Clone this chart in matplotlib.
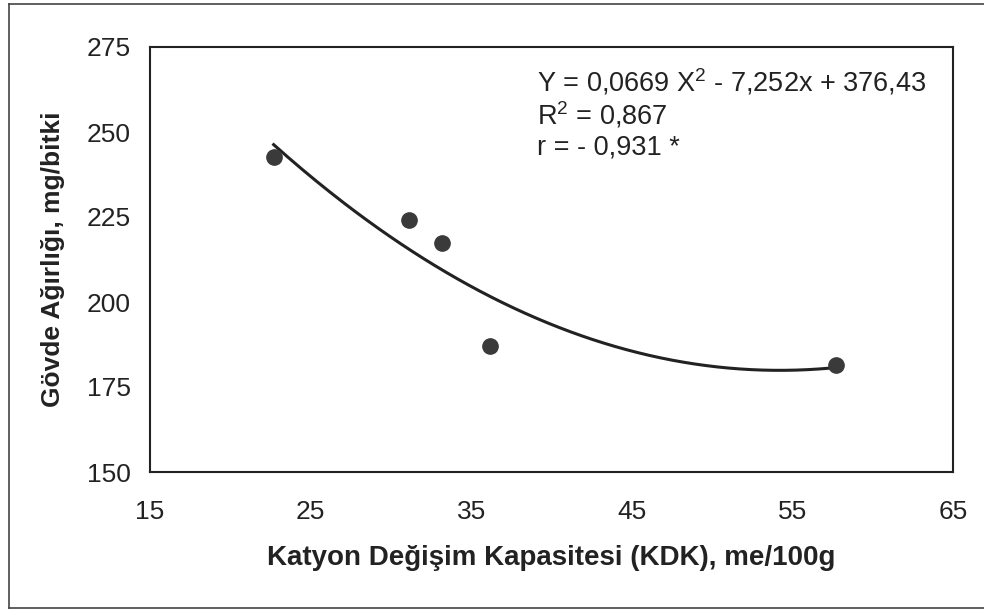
import numpy as np
import matplotlib
matplotlib.use("Agg")
import matplotlib.pyplot as plt
from matplotlib.lines import Line2D

plt.rcParams["font.family"] = ["Liberation Sans", "DejaVu Sans"]
plt.rcParams["mathtext.fontset"] = "custom"
plt.rcParams["mathtext.rm"] = "Liberation Sans"
plt.rcParams["mathtext.it"] = "Liberation Sans"

# --- data ---
kdk = [22.7, 31.1, 33.2, 36.2, 57.7]          # me/100g
govde = [242.6, 224.1, 217.4, 187.1, 181.5]   # mg/bitki

# printed trendline coefficients: Y = a X^2 + b X + c
coef_a, coef_b, coef_c = 0.0669, -7.252, 376.43

x_ticks = [15, 25, 35, 45, 55, 65]
y_ticks = [150, 175, 200, 225, 250, 275]

eq_lines = ["Y = 0,0669 X$^{\\mathrm{2}}$ - 7,252x + 376,43",
            "R$^{\\mathrm{2}}$ = 0,867",
            "r = - 0,931 *"]

ink = "#222222"

fig = plt.figure(figsize=(9.84, 6.12), dpi=100)
ax = fig.add_axes([150 / 984, 1 - 472 / 612, 803 / 984, 425 / 612])

# trendline over the data span
xs = np.linspace(min(kdk), max(kdk), 200)
ax.plot(xs, coef_a * xs**2 + coef_b * xs + coef_c, color=ink, lw=2.2, zorder=2)
ax.plot(kdk, govde, "o", ms=11, color="#3a3a3a", zorder=3)

ax.set_xlim(15, 65)
ax.set_ylim(150, 275)
ax.set_xticks(x_ticks)
ax.set_yticks(y_ticks)
ax.tick_params(length=0, labelsize=19, colors=ink)
ax.tick_params(axis="y", pad=14)
ax.tick_params(axis="x", pad=20)
for sp in ax.spines.values():
    sp.set_color(ink)
    sp.set_linewidth(1.5)

ax.set_ylabel("Gövde Ağırlığı, mg/bitki", fontsize=19, fontweight="bold",
              color=ink)
ax.yaxis.set_label_coords(-85 / 803, 0.5)
ax.set_xlabel("Katyon Değişim Kapasitesi (KDK), me/100g", fontsize=20,
              fontweight="bold", color=ink)
ax.xaxis.set_label_coords(0.5, -73 / 425)

for i, line in enumerate(eq_lines):
    fig.text(537 / 984, 1 - (82 + 33 * i) / 612, line, fontsize=19.5,
             color=ink, ha="left", va="center")

# outer chart-area border (left, top, bottom)
for xy in [([9, 9], [4, 608]), ([9, 984], [4, 4]), ([9, 984], [608, 608])]:
    fig.add_artist(Line2D([v / 984 for v in xy[0]],
                          [1 - v / 612 for v in xy[1]],
                          color="#444444", lw=1.2))

fig.savefig("out.png", dpi=100)
